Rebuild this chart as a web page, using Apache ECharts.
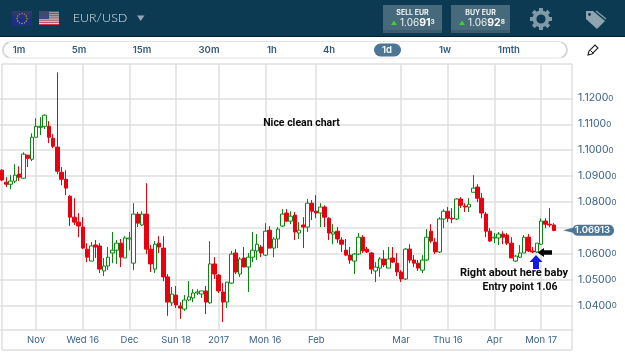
<!DOCTYPE html>
<html>
<head>
<meta charset="utf-8">
<style>html,body{margin:0;padding:0;background:#fff}#chart{width:625px;height:352px}</style>
<script src="https://cdn.jsdelivr.net/npm/echarts@6/dist/echarts.min.js"></script>
</head>
<body>
<div id="chart"></div>
<script>
// EUR/USD daily candles
const opens = [1.0923,1.0877,1.0869,1.0881,1.0908,1.0892,1.0981,1.0965,1.1050,1.1088,1.1092,1.1092,1.1046,1.1012,1.0915,1.0888,1.0823,1.0742,1.0723,1.0704,1.0619,1.0573,1.0635,1.0631,1.0535,1.0554,1.0604,1.0615,1.0642,1.0585,1.0658,1.0565,1.0754,1.0712,1.0754,1.0619,1.0542,1.0642,1.0623,1.0512,1.0412,1.0442,1.0400,1.0388,1.0423,1.0431,1.0450,1.0446,1.0458,1.0412,1.0562,1.0519,1.0454,1.0415,1.0488,1.0604,1.0523,1.0585,1.0550,1.0588,1.0612,1.0627,1.0596,1.0692,1.0623,1.0658,1.0708,1.0758,1.0727,1.0750,1.0681,1.0712,1.0704,1.0796,1.0765,1.0758,1.0781,1.0738,1.0677,1.0688,1.0654,1.0615,1.0596,1.0573,1.0600,1.0665,1.0619,1.0604,1.0535,1.0546,1.0581,1.0546,1.0585,1.0565,1.0531,1.0504,1.0619,1.0577,1.0565,1.0538,1.0577,1.0688,1.0646,1.0608,1.0735,1.0765,1.0738,1.0735,1.0812,1.0785,1.0781,1.0838,1.0858,1.0815,1.0754,1.0688,1.0662,1.0662,1.0677,1.0673,1.0642,1.0573,1.0588,1.0604,1.0665,1.0612,1.0608,1.0638,1.0727,1.0715,1.0712];
const closes = [1.0885,1.0869,1.0881,1.0904,1.0896,1.0985,1.0969,1.1050,1.1092,1.1092,1.1135,1.1050,1.1015,1.0919,1.0888,1.0854,1.0742,1.0723,1.0708,1.0623,1.0588,1.0631,1.0627,1.0542,1.0554,1.0588,1.0615,1.0642,1.0588,1.0662,1.0662,1.0754,1.0719,1.0754,1.0619,1.0562,1.0638,1.0627,1.0512,1.0415,1.0446,1.0404,1.0392,1.0423,1.0435,1.0450,1.0454,1.0458,1.0415,1.0562,1.0523,1.0458,1.0415,1.0492,1.0600,1.0531,1.0581,1.0550,1.0588,1.0615,1.0638,1.0604,1.0688,1.0623,1.0658,1.0696,1.0754,1.0727,1.0746,1.0685,1.0692,1.0704,1.0796,1.0765,1.0758,1.0781,1.0742,1.0681,1.0685,1.0658,1.0638,1.0596,1.0577,1.0600,1.0665,1.0612,1.0608,1.0542,1.0550,1.0581,1.0558,1.0581,1.0569,1.0531,1.0504,1.0619,1.0577,1.0565,1.0546,1.0577,1.0665,1.0650,1.0608,1.0735,1.0765,1.0738,1.0735,1.0812,1.0788,1.0781,1.0792,1.0854,1.0815,1.0758,1.0688,1.0650,1.0665,1.0677,1.0665,1.0642,1.0585,1.0592,1.0604,1.0665,1.0612,1.0608,1.0642,1.0727,1.0715,1.0712,1.0691];
const lows = [1.0881,1.0858,1.0850,1.0873,1.0881,1.0892,1.0935,1.0958,1.1050,1.1058,1.1081,1.1027,1.1008,1.0908,1.0865,1.0827,1.0708,1.0712,1.0665,1.0619,1.0569,1.0573,1.0585,1.0527,1.0515,1.0538,1.0565,1.0562,1.0550,1.0585,1.0615,1.0538,1.0704,1.0708,1.0600,1.0531,1.0527,1.0604,1.0496,1.0362,1.0400,1.0392,1.0350,1.0381,1.0419,1.0415,1.0442,1.0431,1.0369,1.0408,1.0504,1.0450,1.0338,1.0392,1.0485,1.0523,1.0512,1.0550,1.0454,1.0569,1.0577,1.0588,1.0592,1.0623,1.0588,1.0623,1.0704,1.0723,1.0715,1.0654,1.0658,1.0623,1.0685,1.0731,1.0738,1.0704,1.0704,1.0654,1.0638,1.0642,1.0608,1.0592,1.0562,1.0523,1.0596,1.0604,1.0604,1.0523,1.0492,1.0512,1.0550,1.0546,1.0565,1.0515,1.0492,1.0500,1.0565,1.0550,1.0535,1.0527,1.0573,1.0642,1.0600,1.0604,1.0700,1.0723,1.0719,1.0731,1.0777,1.0762,1.0762,1.0838,1.0800,1.0738,1.0665,1.0646,1.0642,1.0635,1.0638,1.0635,1.0585,1.0569,1.0585,1.0604,1.0608,1.0604,1.0604,1.0635,1.0700,1.0704,1.0688];
const highs = [1.0927,1.0896,1.0904,1.0946,1.0938,1.0992,1.0981,1.1065,1.1123,1.1127,1.1138,1.1112,1.1062,1.1300,1.0935,1.0923,1.0827,1.0815,1.0758,1.0742,1.0642,1.0646,1.0654,1.0642,1.0585,1.0627,1.0685,1.0654,1.0658,1.0669,1.0685,1.0796,1.0762,1.0765,1.0873,1.0635,1.0650,1.0669,1.0669,1.0523,1.0473,1.0477,1.0415,1.0442,1.0496,1.0465,1.0465,1.0458,1.0477,1.0650,1.0588,1.0523,1.0488,1.0492,1.0612,1.0619,1.0588,1.0627,1.0604,1.0685,1.0677,1.0635,1.0719,1.0708,1.0665,1.0704,1.0773,1.0773,1.0765,1.0762,1.0723,1.0742,1.0812,1.0808,1.0827,1.0796,1.0788,1.0742,1.0715,1.0704,1.0665,1.0658,1.0627,1.0604,1.0681,1.0673,1.0627,1.0608,1.0569,1.0588,1.0615,1.0627,1.0627,1.0604,1.0538,1.0623,1.0638,1.0596,1.0577,1.0596,1.0696,1.0715,1.0662,1.0742,1.0773,1.0781,1.0777,1.0815,1.0819,1.0796,1.0815,1.0904,1.0869,1.0835,1.0762,1.0700,1.0681,1.0685,1.0688,1.0681,1.0665,1.0596,1.0635,1.0673,1.0677,1.0627,1.0642,1.0738,1.0738,1.0777,1.0719];

const tickIndex = [8,19,30,41,51,62,74,94,105,116,127];
const tickNames = ['Nov','Wed 16','Dec','Sun 18','2017','Mon 16','Feb','Mar','Thu 16','Apr','Mon 17'];
const priceTicks = [1.04,1.05,1.06,1.07,1.08,1.09,1.10,1.11,1.12];
const priceLabels = [1.04,1.05,1.06,1.08,1.09,1.10,1.11,1.12]; // 1.07 sits under the live price tag
const lastPrice = 1.06913;
const emptySessions = 4; // blank space kept to the right of the latest candle
const periods = [['1m',19],['5m',79],['15m',142],['30m',209],['1h',272],['4h',329],['1d',387],['1w',445],['1mth',509]];

const categories = Array.from({length: opens.length + emptySessions}, (_, i) => String(i));
const candles = opens.map((o, i) => [o, closes[i], lows[i], highs[i]]);

const FONT = 'Inter, "Open Sans", sans-serif';
const BLUE = '#3b6286';
const GRID = '#dfdfdf';

// Chrome around the plot: header bar, flags, quotes, period selector
const chrome = [];
function rect(x, y, w, h, fill, r, extra) {
  chrome.push(Object.assign({type:'rect', shape:{x, y, width:w, height:h, r:r||0}, style:{fill}, silent:true}, extra||{}));
}
function text(x, y, t, style, extra) {
  chrome.push(Object.assign({type:'text', x, y, silent:true,
    style:Object.assign({text:t, font:'10px '+FONT, fill:'#000', textAlign:'center', textVerticalAlign:'middle'}, style)}, extra||{}));
}
function poly(points, fill, z) {
  chrome.push({type:'polygon', shape:{points}, style:{fill}, silent:true, z:z||0});
}

rect(0, 0, 625, 36, '#0c3a52');
rect(0, 36, 625, 1, '#06202e');

// EU flag
rect(12, 11, 20, 15, '#1c2f86');
for (let a = 0; a < 12; a++) {
  const t = a * Math.PI / 6;
  chrome.push({type:'circle', shape:{cx:22+5*Math.cos(t), cy:18.5+5*Math.sin(t), r:0.7}, style:{fill:'#d8b93a'}, silent:true});
}
// US flag
for (let s = 0; s < 7; s++) rect(39, 11 + s*15/7, 20, 15/14, '#d8343c');
for (let s = 0; s < 6; s++) rect(39, 11 + (s*2+1)*15/14, 20, 15/14, '#f2f2f2');
rect(39, 11, 10, 8, '#3a4c8c');
const gloss = {type:'linear', x:0, y:0, x2:0, y2:1, colorStops:[{offset:0, color:'rgba(70,70,70,0.55)'},{offset:0.55, color:'rgba(70,70,70,0)'}]};
rect(12, 11, 20, 15, gloss);
rect(39, 11, 20, 15, gloss);

text(100, 18, 'EUR/USD', {font:'300 12.5px Lato, '+FONT, fill:'#dbe4e9'});
poly([[137,15.5],[144.5,15.5],[140.7,21]], '#92a7b2');

// Quote buttons
[[383,'SELL EUR','91','3'],[451,'BUY EUR','92','8']].forEach(([x, name, big, tiny]) => {
  rect(x, 5, 59, 28, '#47697c');
  rect(x, 30, 59, 3, '#3c5b6e');
  text(x+29.5, 12.5, name, {font:'bold 7px '+FONT, fill:'#f2f5f6'});
  poly([[x+8,25],[x+14,25],[x+11,20.5]], '#3fce3a');
  chrome.push({type:'text', x:x+17, y:22.5, silent:true, style:{
    text:'{a|1.06}{b|'+big+'}{c|'+tiny+'}', textVerticalAlign:'middle', textAlign:'left', fill:'#fff',
    rich:{a:{font:'10px '+FONT, fill:'#eef2f4'}, b:{font:'bold 10.5px '+FONT, fill:'#fff'}, c:{font:'bold 6.5px '+FONT, fill:'#eef2f4'}}
  }});
});

// Gear
chrome.push({type:'ring', shape:{cx:541, cy:19, r:8.5, r0:4.6}, style:{fill:'#7f99a7'}, silent:true});
for (let a = 0; a < 8; a++) {
  rect(539, 8, 4, 4, '#7f99a7', 0, {originX:541, originY:19, rotation:a*Math.PI/4});
}
// Price tag
chrome.push({type:'polygon', silent:true, shape:{points:[[586,11],[593,11],[605,21],[597,29],[586,19]]}, style:{fill:'#8ea4b0'}});
chrome.push({type:'polyline', silent:true, shape:{points:[[596,11],[606,19]]}, style:{stroke:'#8ea4b0', lineWidth:1.3, fill:null}});
chrome.push({type:'circle', silent:true, shape:{cx:589.5, cy:14.5, r:1.4}, style:{fill:'#0c3a52'}});

// Period selector
rect(3, 41.5, 564, 16.5, '#fff', 8.5, {style:{fill:'#fff', stroke:'#e3e3e3', lineWidth:1}});
chrome.push({type:'arc', silent:true, shape:{cx:11, cy:50, r:8, startAngle:Math.PI*0.6, endAngle:Math.PI*1.4}, style:{stroke:'#d4d4d4', lineWidth:1.6, fill:null}});
chrome.push({type:'arc', silent:true, shape:{cx:559, cy:50, r:8, startAngle:-Math.PI*0.4, endAngle:Math.PI*0.4}, style:{stroke:'#d4d4d4', lineWidth:1.6, fill:null}});
rect(374, 43.5, 27, 13, '#4d7596', 6.5);
periods.forEach(([label, x]) => {
  text(x, 50, label, {font:'600 9.5px '+FONT, fill: label === '1d' ? '#fff' : '#2f5a7c'});
});
// Pencil
chrome.push({type:'polygon', silent:true, shape:{points:[[588,55],[589,51],[595,45],[598,48],[592,54]]}, style:{fill:'#fff', stroke:'#222', lineWidth:1.1}});
chrome.push({type:'polyline', silent:true, shape:{points:[[590.5,50.5],[593.5,53.5]]}, style:{stroke:'#222', lineWidth:1, fill:null}});

// Plot frame
[[[2,64],[572,64]],[[2,350],[572,350]],[[2,64],[2,350]],[[572,64],[572,350]]].forEach(([a, b]) => {
  chrome.push({type:'line', silent:true, shape:{x1:a[0], y1:a[1], x2:b[0], y2:b[1]}, style:{stroke:GRID, lineWidth:1.5}});
});

// Annotations written on top of the price action
const notes = [
  ['Nice clean chart', 301.5, 123, 10.5],
  ['Right about here baby', 514, 273, 11],
  ['Entry point 1.06', 520, 287, 10.5]
];
notes.forEach(([t, x, y, s]) => text(x, y, t, {font:'bold '+s+'px Roboto, '+FONT, fill:'#0a0a0a'}, {z:20}));
poly([[536,255],[542.5,262],[539,262],[539,269],[533,269],[533,262],[529.5,262]], '#1418f0', 20);
poly([[537.5,252.5],[544,248],[544,250.3],[552,250.3],[552,254.7],[544,254.7],[544,257]], '#050505', 20);

const chart = echarts.init(document.getElementById('chart'), null, {renderer:'canvas'});
chart.setOption({
  animation:false,
  backgroundColor:'#fff',
  graphic:{elements:chrome},
  grid:{left:-1, width:574, top:64, height:266, containLabel:false},
  xAxis:{
    type:'category', data:categories, boundaryGap:true,
    axisLine:{show:true, lineStyle:{color:GRID, width:1.5}},
    axisTick:{show:false},
    splitLine:{show:true, alignWithLabel:true, interval:(i)=>tickIndex.includes(i), lineStyle:{color:GRID, width:1.5}},
    axisLabel:{
      interval:(i)=>tickIndex.includes(i),
      formatter:(v, i)=>tickNames[tickIndex.indexOf(i)] || '',
      color:BLUE, fontFamily:FONT, fontSize:9.5, margin:5, hideOverlap:false
    }
  },
  yAxis:{
    type:'value', position:'right', scale:true, min:1.03075, max:1.13321,
    axisLine:{show:false},
    axisTick:{show:false, customValues:priceTicks},
    splitLine:{show:true, lineStyle:{color:GRID, width:1.5}},
    axisLabel:{
      customValues:priceLabels, margin:5, showMinLabel:true, showMaxLabel:true,
      formatter:(v)=>'{a|'+v.toFixed(4)+'}{b|0}',
      rich:{a:{color:BLUE, fontFamily:FONT, fontSize:10.5}, b:{color:BLUE, fontFamily:FONT, fontSize:8}}
    }
  },
  series:[{
    type:'candlestick',
    data:candles,
    barWidth:4,
    itemStyle:{color:'#ffffff', color0:'#e8000f', borderColor:'#0a870f', borderColor0:'#e8000f', borderWidth:1},
    markPoint:{
      silent:true,
      symbol:'path://M0 5.5 L10 3 C11 1 12 0 15 0 L46 0 C49 0 51 2.5 51 5.5 C51 8.5 49 11 46 11 L15 11 C12 11 11 10 10 8 Z',
      symbolSize:[51,11],
      symbolOffset:[34.6,0],
      itemStyle:{color:'#4d7596'},
      label:{show:true, position:'inside', offset:[4,0], color:'#fff', fontFamily:FONT, fontWeight:600, fontSize:9.5, formatter:()=>lastPrice.toFixed(5)},
      data:[{xAxis:String(opens.length-1), yAxis:lastPrice}]
    }
  }]
});
</script>
</body>
</html>
